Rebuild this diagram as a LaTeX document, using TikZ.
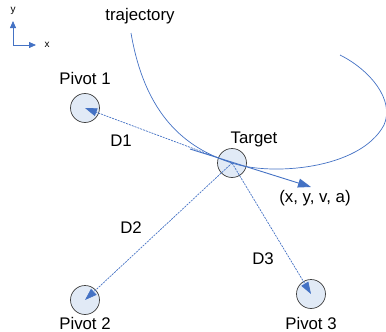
\documentclass[tikz,border=0pt]{standalone}
\usepackage{fontspec}
\setmainfont{Liberation Sans}
\usetikzlibrary{arrows.meta}
\definecolor{lineblue}{HTML}{4472C4}
\definecolor{discfill}{HTML}{E1EAF6}
\tikzset{
  disc/.style={circle,draw=black!75,fill=discfill,line width=0.7pt,minimum size=29pt,inner sep=0pt},
  lbl/.style={font=\fontsize{16.8}{18}\selectfont,inner sep=0pt},
  distline/.style={draw=lineblue,line width=0.7pt,dash pattern=on 2pt off 1pt,-{Triangle[length=12pt,width=8pt]}},
  axis/.style={draw=lineblue,line width=0.8pt,-{Triangle[length=7pt,width=6pt]}}
}
\begin{document}
\begin{tikzpicture}[x=1pt,y=-1pt]
    \useasboundingbox (0,0) rectangle (386,332);

    % Axes
    \coordinate (o) at (13,45);
    \coordinate (ytip) at (13,21);
    \coordinate (xtip) at (36,45);
    \draw[axis] (o) -- (ytip);
    \draw[axis] (o) -- (xtip);
    \node[font=\fontsize{10}{12}\selectfont] (ylbl) at (13,11) {y};
    \node[font=\fontsize{10}{12}\selectfont] (xlbl) at (47,45) {x};

    % Circles
    \node[disc] (target) at (232,163) {};
    \node[disc] (p1) at (85,108) {};
    \node[disc] (p2) at (85,300) {};
    \node[disc] (p3) at (311,294) {};

    % Labels
    \node[lbl] (trajlbl) at (140,16) {trajectory};
    \node[lbl] (targetlbl) at (254,139) {Target};
    \node[lbl] (p1lbl) at (85,78) {Pivot 1};
    \node[lbl] (p2lbl) at (85,323) {Pivot 2};
    \node[lbl] (p3lbl) at (311,323) {Pivot 3};
    \node[lbl] (state) at (315,198) {(x, y, v, a)};
    \node[lbl] (d1) at (121,141) {D1};
    \node[lbl] (d2) at (131,228) {D2};
    \node[lbl] (d3) at (263,259) {D3};

    % Distances
    \draw[distline] (target.center) -- (p1.center);
    \draw[distline] (target.center) -- (p2.center);
    \draw[distline] (target.center) -- (p3.center);

    % Trajectory
    \draw[lineblue,line width=0.7pt] (131,33) .. controls (145,115) and (185,148) .. (target.center)
        .. controls (270,176) and (360,170) .. (384,125)
        .. controls (395,100) and (370,70) .. (340,55);

    % Velocity
    \coordinate (vstart) at (190,149);
    \coordinate (vend) at (311,187);
    \draw[lineblue,line width=0.9pt,-{Triangle[length=13pt,width=9pt]}] (vstart) -- (vend);
\end{tikzpicture}
\end{document}
